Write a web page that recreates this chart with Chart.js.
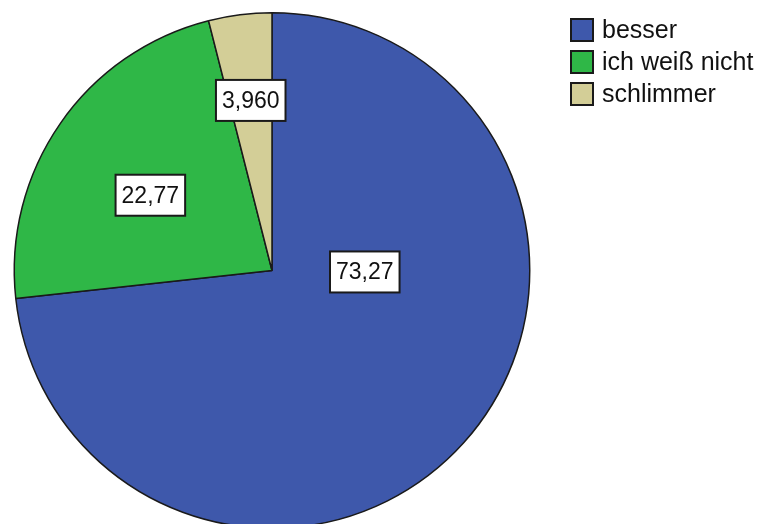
<!DOCTYPE html>
<html>
<head>
<meta charset="utf-8">
<script src="https://cdn.jsdelivr.net/npm/chart.js@4.4.1/dist/chart.umd.min.js"></script>
<style>
  html, body { margin: 0; padding: 0; background: #ffffff; overflow: hidden; }
  #wrap { position: relative; width: 764px; height: 524px; overflow: hidden; }
  canvas { display: block; }
</style>
</head>
<body>
<div id="wrap"><canvas id="c" width="764" height="544"></canvas></div>
<script>
// ---- data ----
const categories = ["besser", "ich weiß nicht", "schlimmer"];
const percentValues = [73.27, 22.77, 3.96];
const valueLabels = ["73,27", "22,77", "3,960"];
const sliceColors = ["#3e58ab", "#2fb747", "#d3ce97"];

// label placement style: angle (deg, null = slice mid-angle) and radius fraction
const labelPlacement = [
  { angleDeg: 0.9, radiusFrac: 0.36 },
  { angleDeg: 211.75, radiusFrac: 0.555 },
  { angleDeg: null, radiusFrac: 0.665 }
];

const labelPlugin = {
  id: 'sliceLabels',
  afterDatasetsDraw(chart) {
    const ctx = chart.ctx;
    const meta = chart.getDatasetMeta(0);
    ctx.save();
    ctx.font = '23px "Liberation Sans", Arial, sans-serif';
    ctx.textAlign = 'center';
    ctx.textBaseline = 'middle';
    meta.data.forEach((arc, i) => {
      const p = arc.getProps(['x', 'y', 'startAngle', 'endAngle', 'outerRadius'], true);
      const pl = labelPlacement[i];
      const ang = pl.angleDeg === null ? (p.startAngle + p.endAngle) / 2 : pl.angleDeg * Math.PI / 180;
      const r = p.outerRadius * pl.radiusFrac;
      const cx = p.x + Math.cos(ang) * r;
      const cy = p.y + Math.sin(ang) * r;
      const txt = valueLabels[i];
      const w = ctx.measureText(txt).width + 12;
      const h = 41;
      ctx.fillStyle = '#ffffff';
      ctx.fillRect(cx - w / 2, cy - h / 2, w, h);
      ctx.lineWidth = 2;
      ctx.strokeStyle = '#1a1a1a';
      ctx.strokeRect(cx - w / 2, cy - h / 2, w, h);
      ctx.fillStyle = '#111111';
      ctx.fillText(txt, cx, cy + 1);
    });
    ctx.restore();
  }
};

const legendPlugin = {
  id: 'boxLegend',
  afterDraw(chart) {
    const ctx = chart.ctx;
    ctx.save();
    ctx.font = '25px "Liberation Sans", Arial, sans-serif';
    ctx.textAlign = 'left';
    ctx.textBaseline = 'middle';
    chart.data.labels.forEach((lab, i) => {
      const x = 571, y = 19 + i * 32;
      ctx.fillStyle = chart.data.datasets[0].backgroundColor[i];
      ctx.fillRect(x, y, 22, 22);
      ctx.lineWidth = 2;
      ctx.strokeStyle = '#1a1a1a';
      ctx.strokeRect(x, y, 22, 22);
      ctx.fillStyle = '#111111';
      ctx.fillText(lab, x + 31, y + 12);
    });
    ctx.restore();
  }
};

new Chart(document.getElementById('c'), {
  type: 'pie',
  data: {
    labels: categories,
    datasets: [{
      data: percentValues,
      backgroundColor: sliceColors,
      borderColor: '#1a1a1a',
      borderWidth: 1.5,
      borderAlign: 'center'
    }]
  },
  options: {
    responsive: false,
    animation: false,
    layout: { padding: { left: 13, top: 12, right: 233, bottom: 15 } },
    plugins: {
      legend: { display: false },
      tooltip: { enabled: false }
    }
  },
  plugins: [labelPlugin, legendPlugin]
});
</script>
</body>
</html>
